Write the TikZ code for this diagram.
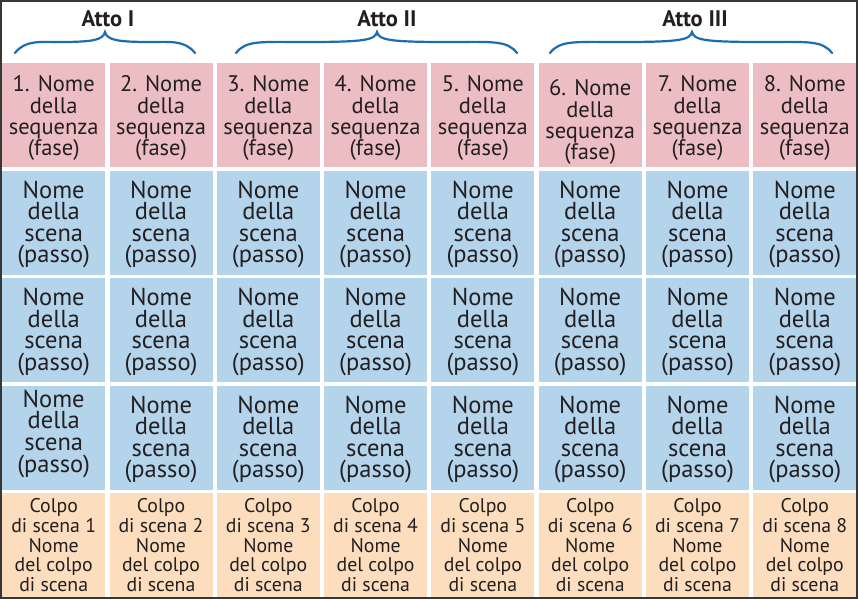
\documentclass[tikz,border=0pt]{standalone}
\usepackage{fontspec}
\setmainfont{PT Sans}
\definecolor{pinkc}{RGB}{236,190,195}
\definecolor{bluec}{RGB}{180,212,235}
\definecolor{peachc}{RGB}{252,221,189}
\definecolor{txt}{RGB}{35,31,32}
\definecolor{bracec}{RGB}{28,108,180}
\definecolor{framec}{RGB}{55,55,55}
\newcommand\actbr[3]{%
  \draw[actbrace] (#1,53) .. controls ({#1+10},40) and ({#1+25},42) .. ({(#1+#2)/2},42)
    .. controls ({#2-12},42) and ({#2-2},40) .. (#2,32)
    .. controls ({#2+2},40) and ({#2+12},42) .. ({(#2+#3)/2},42)
    .. controls ({#3-25},42) and ({#3-10},40) .. (#3,53);}
\begin{document}
\begin{tikzpicture}[x=1pt,y=-1pt,
 cell/.style={minimum width=103pt,minimum height=104pt,inner sep=0pt,align=center,text=txt,anchor=north west},
 seqcell/.style={cell,fill=pinkc,font=\fontsize{22.5}{21.3}\selectfont},
 scenecell/.style={cell,fill=bluec,font=\fontsize{24.5}{21.6}\selectfont},
 beatcell/.style={cell,fill=peachc,font=\fontsize{19.8}{19.8}\selectfont},
 actlabel/.style={font=\bfseries\fontsize{22.5}{22.5}\selectfont,text=txt,inner sep=0pt,anchor=base},
 actbrace/.style={draw=bracec,line width=2.2pt,line cap=round}]
\useasboundingbox (0,0) rectangle (858,599);
\fill[white] (0,0) rectangle (858,599);
\foreach \i [evaluate=\i as \xx using 2+107.3*\i, evaluate=\i as \n using int(\i+1)] in {0,...,7} {
  \ifnum\n=6
    \node[seqcell] (seq\n) at (\xx,63) {\rule{0pt}{30pt}\n. Nome\\della\\sequenza\\(fase)};
  \else
    \node[seqcell] (seq\n) at (\xx,63) {\rule{0pt}{22pt}\n. Nome\\della\\sequenza\\(fase)};
  \fi
  \node[scenecell] (scA\n) at (\xx,170.5) {\rule{0pt}{21pt}Nome\\della\\scena\\(passo)};
  \node[scenecell] (scB\n) at (\xx,278) {\rule{0pt}{21pt}Nome\\della\\scena\\(passo)};
  \ifnum\n=1
    \node[scenecell] (scC\n) at (\xx,385.5) {\rule{0pt}{21pt}Nome\\della\\scena\\(passo)\rule[-17pt]{0pt}{17pt}};
  \else
    \node[scenecell] (scC\n) at (\xx,385.5) {\rule{0pt}{21pt}Nome\\della\\scena\\(passo)};
  \fi
  \node[beatcell] (beat\n) at (\xx,493) {Colpo\\di scena \n\\Nome\\del colpo\\di scena};
}
\node[actlabel] (act1) at (108,27) {Atto I};
\node[actlabel] (act2) at (387,27) {Atto II};
\node[actlabel] (act3) at (695,27) {Atto III};
\actbr{15}{105}{195}
\actbr{236}{377}{517}
\actbr{550}{692}{832}
\draw[framec,line width=2pt] (1,1) rectangle (857,598);
\end{tikzpicture}
\end{document}
